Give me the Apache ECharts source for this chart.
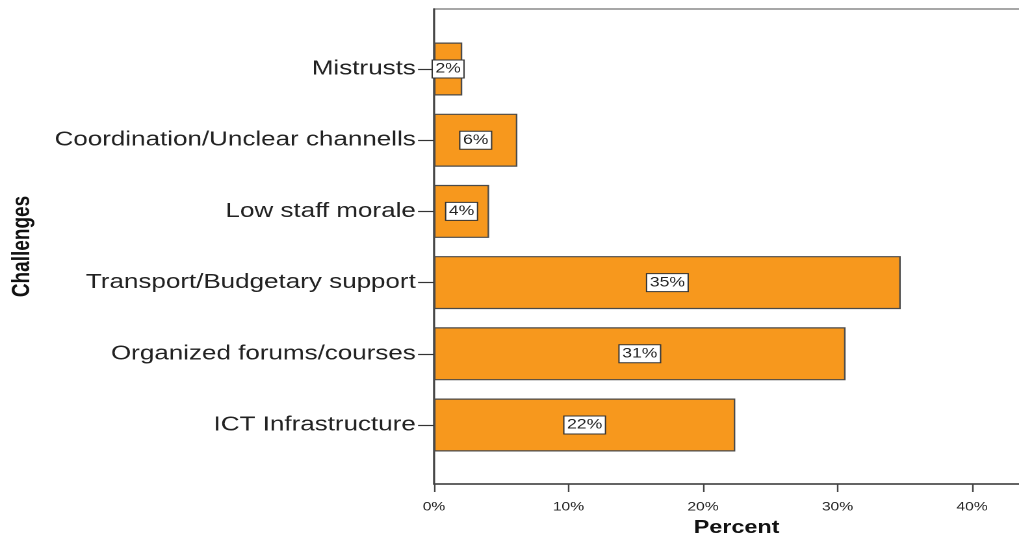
<!DOCTYPE html>
<html>
<head>
<meta charset="utf-8">
<script src="https://cdn.jsdelivr.net/npm/echarts@6/dist/echarts.min.js"></script>
<style>
html,body{margin:0;padding:0;background:#fff;overflow:hidden;}
#c{width:784px;height:535px;transform:scaleX(1.29974);transform-origin:0 0;}
</style>
</head>
<body>
<div id="c"></div>
<script>
const categories = ['Mistrusts','Coordination/Unclear channells','Low staff morale','Transport/Budgetary support','Organized forums/courses','ICT Infrastructure'];
const percentValues = [2.1, 6.2, 4.1, 34.7, 30.6, 22.4];
const xTicks = [0, 10, 20, 30, 40];
const xMax = 45;

const chart = echarts.init(document.getElementById('c'), null, {renderer:'canvas', devicePixelRatio: 2});
const FONT = '"Liberation Sans", Arial, sans-serif';
chart.setOption({
  animation: false,
  backgroundColor: '#ffffff',
  grid: [
    {left: 333.9, right: -15.6, top: 9, bottom: 51, show: true, borderColor: '#8a8a8a', borderWidth: 1.5, backgroundColor: 'transparent', containLabel: false, outerBoundsMode: 'none'},
    {left: 333.9, right: -15.6, top: 33.4, bottom: 74.4, containLabel: false, outerBoundsMode: 'none'}
  ],
  xAxis: [
    {gridIndex: 0, type: 'value', min: 0, max: xMax, interval: 10,
     axisLine: {show: true, lineStyle: {color: '#444', width: 1.5}},
     axisTick: {show: true, length: 8, lineStyle: {color: '#444', width: 1.2}},
     axisLabel: {show: true, margin: 17, color: '#222', fontFamily: FONT, fontSize: 12, showMaxLabel: false,
       formatter: v => xTicks.includes(v) ? v + '%' : ''},
     splitLine: {show: false},
     name: 'Percent', nameLocation: 'middle', nameGap: 35,
     nameTextStyle: {fontFamily: FONT, fontSize: 18, fontWeight: 'bold', color: '#111'}},
    {gridIndex: 1, type: 'value', min: 0, max: xMax, show: false}
  ],
  yAxis: [
    {gridIndex: 0, type: 'value', min: 0, max: 1,
     axisLine: {show: true, lineStyle: {color: '#444', width: 1.5}},
     axisTick: {show: false}, axisLabel: {show: false}, splitLine: {show: false},
     name: 'Challenges', nameLocation: 'middle', nameRotate: 90, nameGap: 307,
     nameTextStyle: {fontFamily: '"Liberation Sans Narrow", "Liberation Sans", Arial, sans-serif', fontSize: 19, fontWeight: 'bold', color: '#111'}},
    {gridIndex: 1, type: 'category', data: categories, inverse: true,
     axisLine: {show: false},
     axisTick: {show: true, alignWithLabel: true, length: 12.3, lineStyle: {color: '#333', width: 1.2}},
     axisLabel: {margin: 14, color: '#222', fontFamily: FONT, fontSize: 20}}
  ],
  series: [{
    type: 'bar', xAxisIndex: 1, yAxisIndex: 1,
    data: percentValues,
    barWidth: 53,
    itemStyle: {color: '#F7981D', borderColor: '#4a4a4a', borderWidth: 1.2},
    label: {show: true, position: 'inside', formatter: p => Math.round(p.value) + '%',
      fontFamily: FONT, fontSize: 13.5, color: '#222', backgroundColor: '#fff',
      borderColor: '#333', borderWidth: 1, padding: [2, 2, 1, 2]}
  }]
});
</script>
</body>
</html>
